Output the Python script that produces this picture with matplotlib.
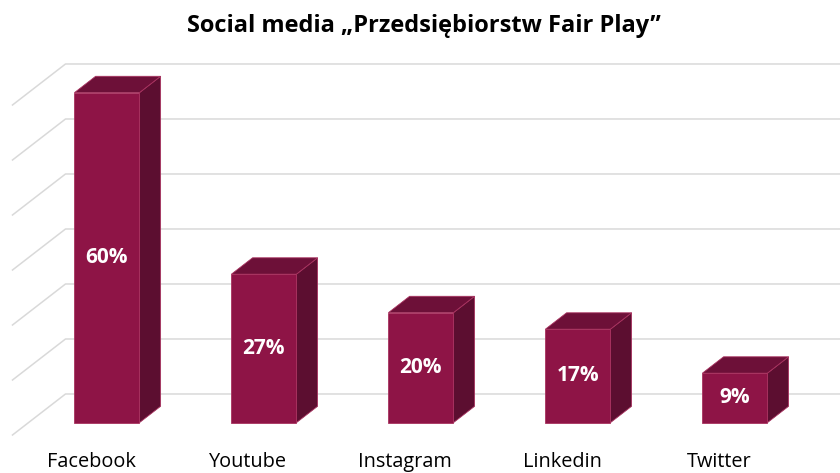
import matplotlib.pyplot as plt
from matplotlib.patches import Polygon

plt.rcParams["font.family"] = ["Open Sans", "DejaVu Sans"]

categories = ["Facebook", "Youtube", "Instagram", "Linkedin", "Twitter"]
values = [60, 27, 20, 17, 9]
gridlines = [0, 10, 20, 30, 40, 50, 60]
title = "Social media \u201ePrzedsiębiorstw Fair Play\u201d"

FRONT = "#8e1446"
SIDE = "#5c0e30"
TOP = "#6d1038"
EDGE = "#a8325f"
GRID = "#d9d9d9"

# oblique projection: depth d in [0, 1] (front -> back wall)
DX, DY = 0.3376, 7.4545
D0, D1 = 0.3, 0.7
HW = 0.207


def proj(x, v, d):
    return (x + d * DX, v + d * DY)


fig = plt.figure(figsize=(8.4, 4.73), dpi=100)
ax = fig.add_axes([0, 0, 1, 1])
ax.set_xlim(-0.5796, 4.771)
ax.set_ylim(-6.91, 79.09)
ax.axis("off")

# walls: side wall diagonals + back wall lines
for g in gridlines:
    x0, y0 = proj(-0.5, g, 0)
    x1, y1 = proj(-0.5, g, 1)
    ax.plot([x0, x1, 6], [y0, y1, y1], color=GRID, lw=1.1, zorder=1)

for i, v in enumerate(values):
    front = [proj(i - HW, 0, D0), proj(i + HW, 0, D0), proj(i + HW, v, D0), proj(i - HW, v, D0)]
    side = [proj(i + HW, 0, D0), proj(i + HW, 0, D1), proj(i + HW, v, D1), proj(i + HW, v, D0)]
    top = [proj(i - HW, v, D0), proj(i + HW, v, D0), proj(i + HW, v, D1), proj(i - HW, v, D1)]
    for pts, c in ((side, SIDE), (top, TOP), (front, FRONT)):
        ax.add_patch(Polygon(pts, closed=True, facecolor=c, edgecolor=EDGE, lw=0.6, zorder=3))
    tx, ty = proj(i, v / 2, D0)
    ax.text(tx, ty, f"{v}%", color="white", fontsize=15, fontweight="bold",
            ha="center", va="center", zorder=4)
    ax.text(i, -4.9, categories[i], color="black", fontsize=14.3, ha="center", va="center")

fig.text(0.505, 1 - 26 / 473, title, fontsize=17, fontweight="bold", ha="center", va="center")

fig.savefig("out.png", dpi=100)
